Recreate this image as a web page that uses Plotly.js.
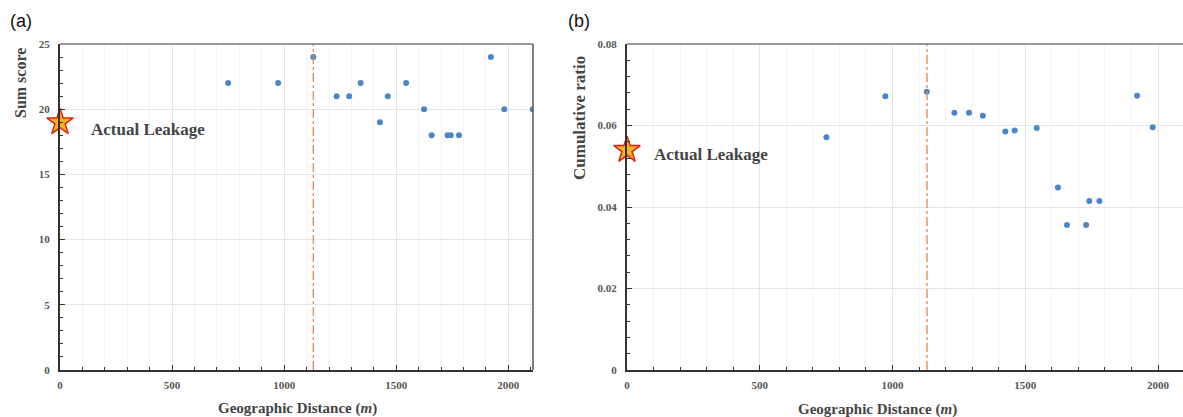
<!DOCTYPE html>
<html>
<head>
<meta charset="utf-8">
<script src="https://cdn.plot.ly/plotly-3.0.1.min.js"></script>
<style>html,body{margin:0;padding:0;background:#fff}#chart{width:1183px;height:417px}</style>
</head>
<body>
<div id="chart"></div>
<script>
// Panel (a): Sum score vs geographic distance
const distA = [750, 973, 1130, 1234, 1290, 1341, 1427, 1462, 1544, 1624, 1658, 1729, 1743, 1780, 1922, 1982, 2109];
const sumScore = [22, 22, 24, 21, 21, 22, 19, 21, 22, 20, 18, 18, 18, 18, 24, 20, 20];
// Panel (b): Cumulative ratio vs geographic distance
const distB = [751, 973, 1129, 1233, 1288, 1340, 1425, 1460, 1543, 1623, 1657, 1729, 1741, 1779, 1921, 1980];
const cumRatio = [0.0571, 0.0672, 0.0683, 0.0631, 0.0631, 0.0624, 0.0585, 0.0588, 0.0594, 0.0448, 0.0356, 0.0356, 0.0415, 0.0415, 0.0673, 0.0596];
// Actual leakage reference
const leakX = [0];
const leakSumScore = [19];
const leakCumRatio = [0.054];
const leakDistance = 1130;
const xTicks = [0, 500, 1000, 1500, 2000];

const serif = 'Liberation Serif, Times New Roman, serif';
const tickFont = {family: serif, size: 11, color: '#555', weight: 'bold'};
const dotColor = '#4a86c8';

const traces = [
  {x: distA, y: sumScore, type: 'scatter', mode: 'markers', xaxis: 'x', yaxis: 'y',
   marker: {color: dotColor, size: 6}},
  {x: leakX, y: leakSumScore, type: 'scatter', mode: 'markers', xaxis: 'x', yaxis: 'y',
   marker: {symbol: 'star', size: 20, color: '#f7b51c', line: {color: '#e0201a', width: 1.5}}, cliponaxis: false},
  {x: distB, y: cumRatio, type: 'scatter', mode: 'markers', xaxis: 'x2', yaxis: 'y2',
   marker: {color: dotColor, size: 6}},
  {x: leakX, y: leakCumRatio, type: 'scatter', mode: 'markers', xaxis: 'x2', yaxis: 'y2',
   marker: {symbol: 'star', size: 20, color: '#f7b51c', line: {color: '#e0201a', width: 1.5}}, cliponaxis: false}
];

function xax(domain, range, anchor) {
  return {domain: domain, range: range, anchor: anchor, tickvals: xTicks, ticks: 'inside', ticklen: 5,
    tickcolor: '#333', showline: true, linecolor: '#333', linewidth: 2, mirror: false,
    showgrid: true, gridcolor: '#e6e6e6', gridwidth: 1, zeroline: false,
    tickfont: tickFont, ticklabelstandoff: 4,
    minor: {dtick: 100, tick0: 0, showgrid: true, gridcolor: '#f3f3f3', gridwidth: 1, ticks: 'inside', ticklen: 3, tickcolor: '#333'}};
}
function yax(range, dtick, minorDtick, anchor) {
  return {range: range, anchor: anchor, dtick: dtick, tick0: 0, ticks: 'inside', ticklen: 5, tickcolor: '#333',
    showline: true, linecolor: '#333', linewidth: 2, showgrid: true, gridcolor: '#e6e6e6', gridwidth: 1,
    zeroline: false, tickfont: tickFont, ticklabelstandoff: 6,
    minor: {dtick: minorDtick, tick0: 0, showgrid: false, ticks: 'inside', ticklen: 3, tickcolor: '#333'}};
}

// convert figure pixel positions to paper coordinates (plot area: y 44..370, x 0..1183)
const PX = (px) => px / 1183;
const PY = (py) => (370 - py) / 326;

const layout = {
  width: 1183, height: 417,
  margin: {l: 0, r: 0, t: 44, b: 47},
  paper_bgcolor: '#fff', plot_bgcolor: '#fff',
  showlegend: false,
  xaxis: xax([60/1183, 533/1183], [0, 2110], 'y'),
  yaxis: yax([0, 25], 5, 1, 'x'),
  xaxis2: xax([627/1183, 1], [0, 2094], 'y2'),
  yaxis2: yax([0, 0.08], 0.02, 0.004, 'x2'),
  shapes: [
    {type: 'line', xref: 'x', yref: 'paper', x0: leakDistance, x1: leakDistance, y0: 0, y1: 1,
     line: {color: '#e8874a', width: 1.3, dash: 'dashdot'}},
    {type: 'line', xref: 'x2', yref: 'paper', x0: leakDistance, x1: leakDistance, y0: 0, y1: 1,
     line: {color: '#e8874a', width: 1.3, dash: 'dashdot'}},
    {type: 'line', xref: 'x domain', yref: 'y domain', x0: 0, x1: 1, y0: 1, y1: 1, line: {color: '#777', width: 1.5}},
    {type: 'line', xref: 'x domain', yref: 'y domain', x0: 1, x1: 1, y0: 0, y1: 1, line: {color: '#555', width: 1.5}},
    {type: 'line', xref: 'x2 domain', yref: 'y2 domain', x0: 0, x1: 1, y0: 1, y1: 1, line: {color: '#777', width: 1.5}}
  ],
  annotations: [
    {text: '(a)', xref: 'paper', yref: 'paper', x: PX(8), y: PY(21), xanchor: 'left', yanchor: 'middle', showarrow: false,
     font: {family: 'Liberation Sans, Arial, sans-serif', size: 18, color: '#111'}},
    {text: '(b)', xref: 'paper', yref: 'paper', x: PX(566), y: PY(21), xanchor: 'left', yanchor: 'middle', showarrow: false,
     font: {family: 'Liberation Sans, Arial, sans-serif', size: 18, color: '#111'}},
    {text: 'Sum score', xref: 'paper', yref: 'paper', x: PX(20), y: PY(83), textangle: -90, showarrow: false,
     xanchor: 'center', yanchor: 'middle', font: {family: serif, size: 16, color: '#444', weight: 'bold'}},
    {text: 'Cumulative ratio', xref: 'paper', yref: 'paper', x: PX(579), y: PY(118), textangle: -90, showarrow: false,
     xanchor: 'center', yanchor: 'middle', font: {family: serif, size: 17, color: '#444', weight: 'bold'}},
    {text: 'Geographic Distance (<i>m</i>)', xref: 'paper', yref: 'paper', x: PX(297), y: PY(408), showarrow: false,
     xanchor: 'center', yanchor: 'middle', font: {family: serif, size: 15, color: '#444', weight: 'bold'}},
    {text: 'Geographic Distance (<i>m</i>)', xref: 'paper', yref: 'paper', x: PX(877), y: PY(409), showarrow: false,
     xanchor: 'center', yanchor: 'middle', font: {family: serif, size: 15, color: '#444', weight: 'bold'}},
    {text: 'Actual Leakage', xref: 'paper', yref: 'paper', x: PX(89), y: PY(129), showarrow: false,
     xanchor: 'left', yanchor: 'middle', font: {family: serif, size: 17, color: '#444', weight: 'bold'}},
    {text: 'Actual Leakage', xref: 'paper', yref: 'paper', x: PX(652), y: PY(154), showarrow: false,
     xanchor: 'left', yanchor: 'middle', font: {family: serif, size: 17, color: '#444', weight: 'bold'}}
  ]
};

Plotly.newPlot('chart', traces, layout, {displayModeBar: false, staticPlot: true});
</script>
</body>
</html>
